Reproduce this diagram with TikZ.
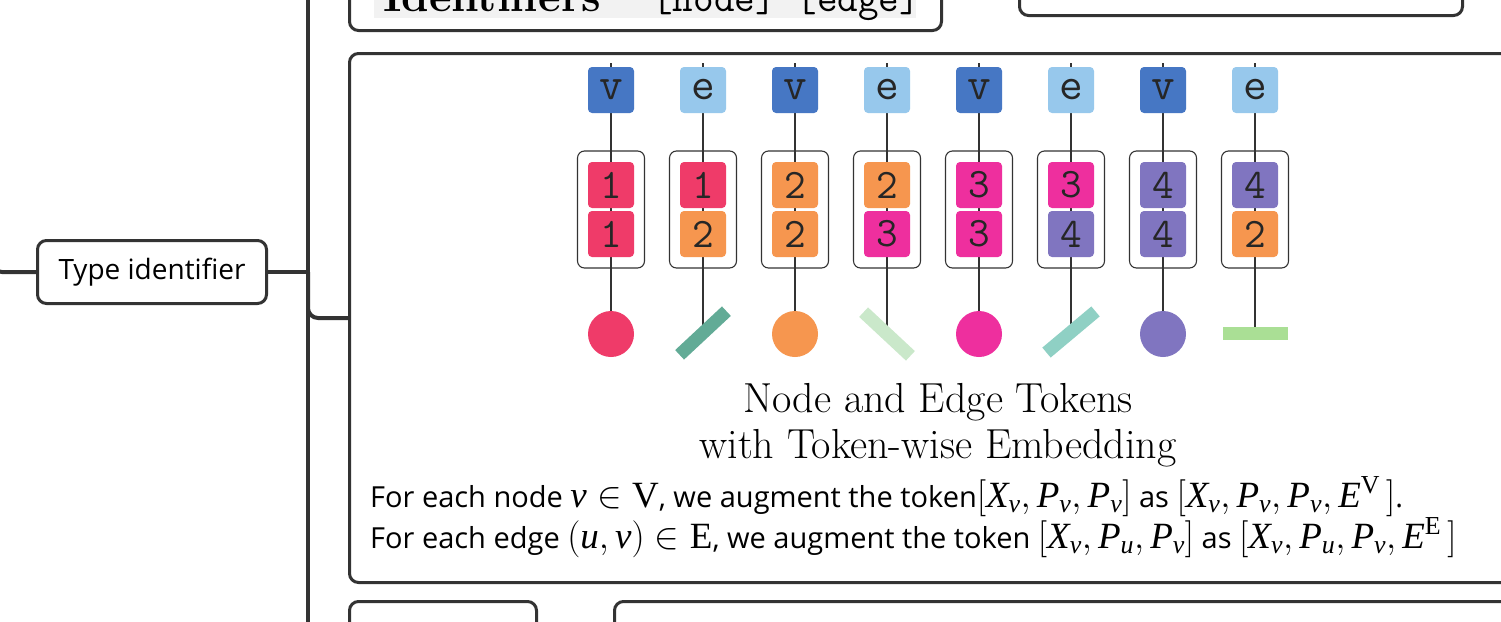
\RequirePackage{fix-cm}
\documentclass[tikz,border=0pt]{standalone}
\usepackage{fontspec}
\setmathrm{Liberation Serif}
\newfontfamily\uisans{Open Sans}
\usetikzlibrary{backgrounds}

\definecolor{mmgray}{HTML}{333333}
\definecolor{vblue}{HTML}{4677C4}
\definecolor{eblue}{HTML}{97C8EC}
\definecolor{cred}{HTML}{EF3B69}
\definecolor{corange}{HTML}{F6964F}
\definecolor{cmag}{HTML}{EE2F9E}
\definecolor{cpurple}{HTML}{8075C0}
\definecolor{tealdk}{HTML}{62AB96}
\definecolor{greenlt}{HTML}{CAE8CA}
\definecolor{teallt}{HTML}{8FD0C4}
\definecolor{greenmd}{HTML}{AADF95}
\definecolor{idgray}{HTML}{F2F2F2}

\newcommand\mv[1]{\mathit{#1}}
% formulas inside the description are set larger than the prose
\newcommand\fml[1]{{\fontsize{37}{37}\selectfont$#1$}}

\pgfdeclarelayer{paper}
\pgfdeclarelayer{links}
\pgfdeclarelayer{boxes}
\pgfsetlayers{paper,links,boxes,background,main}

\begin{document}
\begin{tikzpicture}[x=1pt,y=-1pt,
  mm/.style={draw=mmgray,line width=4pt},
  mmbox/.style={draw=mmgray,line width=3pt,rounded corners=9pt,fill=white,inner sep=0pt},
  tok/.style={rectangle,rounded corners=4pt,minimum size=46pt,inner sep=0pt,text=black!85},
  grp/.style={draw=black!80,line width=1.1pt,rounded corners=7pt,minimum width=67pt,minimum height=117pt,inner sep=0pt},
  stem/.style={draw=black!80,line width=1.1pt},
  dot/.style={circle,minimum size=46pt,inner sep=0pt},
  bar/.style={rectangle,minimum width=64pt,minimum height=13pt,inner sep=0pt},
  letterfont/.style={font=\ttfamily\fontsize{46}{46}\selectfont},
  digitfont/.style={font=\ttfamily\fontsize{42}{42}\selectfont},
  descfont/.style={font=\uisans\fontsize{29}{29}\selectfont},
]
\useasboundingbox (0,0) rectangle (1501,621);
\clip (0,0) rectangle (1501,621);
\begin{pgfonlayer}{paper}
  \fill[white] (0,0) rectangle (1501,621);
\end{pgfonlayer}

% mind-map boxes
\begin{pgfonlayer}{boxes}
  \node[mmbox,anchor=south west,minimum width=592pt,minimum height=140pt] (idbox) at (348,32) {};
  \fill[idgray] (374,-40) rectangle (916,18);
  \node[mmbox,anchor=south west,minimum width=443pt,minimum height=100pt] (rtbox) at (1018,17) {};
  \node[mmbox,anchor=north west,minimum width=1200pt,minimum height=529pt] (panel) at (348,52) {};
  \node[mmbox,anchor=north west,minimum width=187pt,minimum height=100pt] (botl) at (348,600) {};
  \node[mmbox,anchor=north west,minimum width=950pt,minimum height=100pt] (botr) at (613,600) {};
  \node[mmbox,minimum width=229pt,minimum height=63pt,font=\uisans\fontsize{28}{28}\selectfont] (ti) at (152,272) {Type identifier};
\end{pgfonlayer}
\node[anchor=base west,inner sep=0pt,font=\fontsize{44}{44}\selectfont\bfseries] (idlbl) at (383,11) {Identifiers};
\node[anchor=base west,inner sep=0pt,font=\fontsize{40}{40}\selectfont\ttfamily] (idtag) at (652,11) {[node] [edge]};

% trunk and branches
\coordinate (trunkTop) at (308,-10);
\coordinate (trunkBot) at (308,640);
\coordinate (parent) at (-8,180);
\begin{pgfonlayer}{links}
  \draw[mm] (trunkTop) -- (trunkBot);
  \draw[mm] (ti.east) -- (ti.east -| trunkTop);
  \draw[mm,rounded corners=10pt] (ti.east -| trunkTop) -- (panel.west -| trunkTop) -- (panel.west);
  \draw[mm,rounded corners=10pt] (parent) -- (parent |- ti.west) -- (ti.west);
\end{pgfonlayer}

% token columns
\foreach \i/\L/\Lc/\A/\Ac/\B/\Bc in {
  1/v/vblue/1/cred/1/cred,
  2/e/eblue/1/cred/2/corange,
  3/v/vblue/2/corange/2/corange,
  4/e/eblue/2/corange/3/cmag,
  5/v/vblue/3/cmag/3/cmag,
  6/e/eblue/3/cmag/4/cpurple,
  7/v/vblue/4/cpurple/4/cpurple,
  8/e/eblue/4/cpurple/2/corange}
{
  \pgfmathsetmacro\cx{611+92*(\i-1)}
  \coordinate (top\i) at (\cx,63);
  \node[tok,fill=\Lc,letterfont] (l\i) at (\cx,90) {\L};
  \node[grp] (g\i) at (\cx,209.5) {};
  \node[tok,fill=\Ac,digitfont] (a\i) at (\cx,185) {\A};
  \node[tok,fill=\Bc,digitfont] (b\i) at (\cx,234) {\B};
}

% token-wise embeddings
\node[dot,fill=cred] (s1) at (611,334) {};
\node[bar,fill=tealdk,rotate=43] (s2) at (703,333) {};
\node[dot,fill=corange] (s3) at (795,334) {};
\node[bar,fill=greenlt,rotate=-43] (s4) at (887,334) {};
\node[dot,fill=cmag] (s5) at (979,334) {};
\node[bar,fill=teallt,rotate=40] (s6) at (1071,332) {};
\node[dot,fill=cpurple] (s7) at (1163,334) {};
\node[bar,fill=greenmd,minimum width=65pt] (s8) at (1255,333.5) {};

\begin{pgfonlayer}{background}
  \foreach \i in {1,...,8} \draw[stem] (top\i) -- (s\i.center);
\end{pgfonlayer}

% caption
\node[anchor=base,inner sep=0pt,font=\fontsize{42}{42}\selectfont] (cap1) at (938,412) {Node and Edge Tokens};
\node[anchor=base,inner sep=0pt,font=\fontsize{42}{42}\selectfont] (cap2) at (938,458) {with Token-wise Embedding};

% description
\node[anchor=base west,inner sep=0pt,descfont] (d1) at (370,507)
  {For each node \fml{\mv{v} \in \mathrm{V}}, we augment the token\fml{[\mv{X}_{\mv{v}}, \mv{P}_{\mv{v}}, \mv{P}_{\mv{v}}]} as \fml{[\mv{X}_{\mv{v}}, \mv{P}_{\mv{v}}, \mv{P}_{\mv{v}}, \mv{E}^{\mathrm{V}}\,]}.};
\node[anchor=base west,inner sep=0pt,descfont] (d2) at (370,548)
  {For each edge \fml{(\mv{u}, \mv{v}) \in \mathrm{E}}, we augment the token \fml{[\mv{X}_{\mv{v}}, \mv{P}_{\mv{u}}, \mv{P}_{\mv{v}}]} as \fml{[\mv{X}_{\mv{v}}, \mv{P}_{\mv{u}}, \mv{P}_{\mv{v}}, \mv{E}^{\mathrm{E}}\,]}};
\end{tikzpicture}
\end{document}
